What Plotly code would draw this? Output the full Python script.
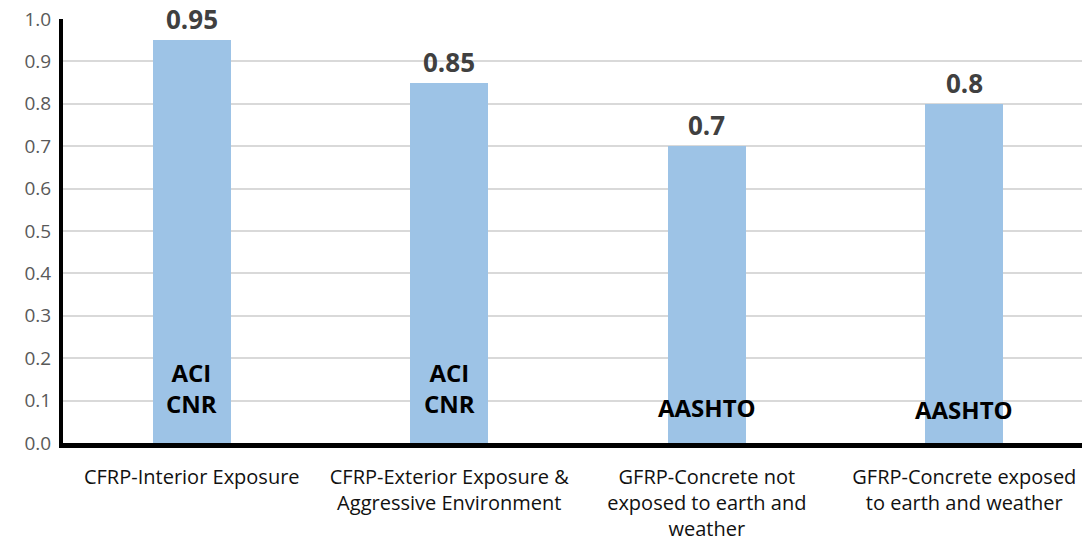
import plotly.graph_objects as go

categories = [
    "CFRP-Interior Exposure",
    "CFRP-Exterior Exposure &<br>Aggressive Environment",
    "GFRP-Concrete not<br>exposed to earth and<br>weather",
    "GFRP-Concrete exposed<br>to earth and weather",
]
values = [0.95, 0.85, 0.7, 0.8]
value_labels = ["0.95", "0.85", "0.7", "0.8"]
codes = ["ACI<br>CNR", "ACI<br>CNR", "AASHTO", "AASHTO"]
code_y = [0.13, 0.13, 0.083, 0.078]
yticks = [0.0, 0.1, 0.2, 0.3, 0.4, 0.5, 0.6, 0.7, 0.8, 0.9, 1.0]

x = list(range(len(categories)))
FONT = "Open Sans"

fig = go.Figure()
fig.add_trace(go.Bar(
    x=x, y=values, width=0.303,
    marker=dict(color="#9DC3E6", line=dict(width=0)),
    hoverinfo="skip",
))

annotations = []
for xi, v, lab in zip(x, values, value_labels):
    annotations.append(dict(
        x=xi, y=v, xref="x", yref="y", text="<b>%s</b>" % lab,
        showarrow=False, yanchor="bottom", yshift=1,
        font=dict(family=FONT, size=26, color="#404040"),
    ))
for xi, cy, c in zip(x, code_y, codes):
    annotations.append(dict(
        x=xi, y=cy, xref="x", yref="y", text="<b>%s</b>" % c,
        showarrow=False, yanchor="middle",
        font=dict(family=FONT, size=24, color="#000000"),
    ))

fig.update_layout(
    width=1082, height=548,
    margin=dict(l=63, r=0, t=19, b=105),
    paper_bgcolor="white", plot_bgcolor="white",
    showlegend=False,
    bargap=0,
    annotations=annotations,
    xaxis=dict(
        range=[-0.5, 3.457],
        tickmode="array", tickvals=x, ticktext=categories,
        tickfont=dict(family=FONT, size=20, color="#111111"),
        showgrid=False, zeroline=False,
        showline=True, linecolor="black", linewidth=5,
        ticks="outside", ticklen=12, tickcolor="rgba(0,0,0,0)",
        fixedrange=True,
    ),
    yaxis=dict(
        range=[0, 1.0],
        tickmode="array", tickvals=yticks,
        ticktext=["%.1f" % t for t in yticks],
        tickfont=dict(family=FONT, size=19, color="#595959"),
        showgrid=True, gridcolor="#D9D9D9", gridwidth=2,
        zeroline=False,
        showline=True, linecolor="black", linewidth=4,
        ticks="outside", ticklen=4, tickcolor="rgba(0,0,0,0)",
        fixedrange=True,
    ),
)

fig.write_html("out.html")
